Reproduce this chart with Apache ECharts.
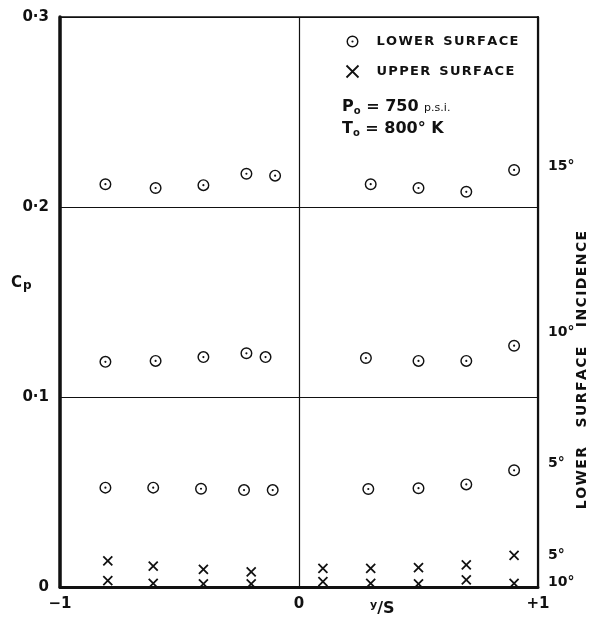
<!DOCTYPE html>
<html lang="en">
<head>
    <meta charset="UTF-8">
    <title>Cp vs y/S</title>
    <script type="text/javascript" src="https://cdn.jsdelivr.net/npm/echarts@6/dist/echarts.min.js"></script>
    <style>
        html, body { margin: 0; padding: 0; background: #fff; }
    </style>
</head>
<body>
<div id="main" style="width: 592px;height: 630px;"></div>

<script type="text/javascript">

    // lower surface, grouped by incidence
    var lowerX15 = [-0.81, -0.6, -0.4, -0.22, -0.1, 0.3, 0.5, 0.7, 0.9];
    var lower15 = [0.212, 0.210, 0.2115, 0.2175, 0.2165, 0.212, 0.210, 0.208, 0.2195];
    var lowerX10 = [-0.81, -0.6, -0.4, -0.22, -0.14, 0.28, 0.5, 0.7, 0.9];
    var lower10 = [0.1185, 0.119, 0.121, 0.123, 0.121, 0.1205, 0.119, 0.119, 0.127];
    var lowerX5 = [-0.81, -0.61, -0.41, -0.23, -0.11, 0.29, 0.5, 0.7, 0.9];
    var lower5 = [0.0523, 0.0523, 0.0517, 0.051, 0.051, 0.0516, 0.052, 0.054, 0.0614];

    // upper surface
    var upperX = [-0.8, -0.61, -0.4, -0.2, 0.1, 0.3, 0.5, 0.7, 0.9];
    var upper5 = [0.0137, 0.011, 0.0093, 0.008, 0.0098, 0.0098, 0.0102, 0.0116, 0.0167];
    var upper10 = [0.0033, 0.0019, 0.0017, 0.0017, 0.0028, 0.0019, 0.0016, 0.0037, 0.0019];

    // incidence labels on the right side
    var incLabels = ['15°', '10°', '5°', '5°', '10°'];
    var incY = [0.2216, 0.134, 0.0653, 0.0168, 0.0026];

    var xTicks = {'-1': '\u22121', '0': '0', '1': '+1'};
    var yTicks = {'0': '0', '0.1': '0·1', '0.2': '0·2', '0.3': '0·3'};

    var font = 'DejaVu Sans';
    var ink = '#111';
    var ring = 'path://M10,0A10,10 0 1,1 10,20A10,10 0 1,1 10,0Z' +
        'M10,2.4A7.6,7.6 0 1,0 10,17.6A7.6,7.6 0 1,0 10,2.4Z' +
        'M10,8.2A1.8,1.8 0 1,1 10,11.8A1.8,1.8 0 1,1 10,8.2Z';
    var cross = 'path://M0,0L10,10M10,0L0,10';

    // widen lettering a little, like the hand stencil
    function spaced(s) {
        return s.split('').join('\u200A');
    }

    function pairs(xs, ys) {
        return xs.map(function (x, i) { return [x, ys[i]]; });
    }

    var lowerData = pairs(lowerX15, lower15).concat(pairs(lowerX10, lower10), pairs(lowerX5, lower5));
    var upperData = pairs(upperX, upper5).concat(pairs(upperX, upper10));
    var incData = incY.map(function (y, i) { return [1, y, incLabels[i]]; });

    var lowerName = spaced('LOWER') + '  ' + spaced('SURFACE');
    var upperName = spaced('UPPER') + '  ' + spaced('SURFACE');

    var chart = echarts.init(document.getElementById('main'));
    var option = {
        animation: false,
        backgroundColor: '#fff',
        textStyle: {fontFamily: font, color: ink},
        grid: {left: 60, right: 54, top: 17, bottom: 43},
        legend: {
            orient: 'vertical',
            left: 339,
            top: 30,
            itemGap: 15,
            itemWidth: 12,
            itemHeight: 12,
            textStyle: {fontFamily: font, fontSize: 13, fontWeight: 'bold', color: ink, padding: [0, 0, 0, 13]},
            data: [
                {name: lowerName, icon: ring},
                {name: upperName, icon: cross, itemStyle: {color: 'none', borderColor: ink, borderWidth: 1.8}}
            ]
        },
        xAxis: [{
            type: 'value', min: -1, max: 1, interval: 1,
            axisLine: {onZero: false, lineStyle: {color: ink, width: 3}},
            axisTick: {show: false},
            splitLine: {show: true, lineStyle: {color: ink, width: 1.2}},
            axisLabel: {
                margin: 10, fontSize: 15, fontWeight: 'bold', color: ink, fontFamily: font,
                formatter: function (v) { return xTicks[String(v)]; }
            }
        }, {
            type: 'value', position: 'top', min: -1, max: 1, interval: 1,
            axisLine: {onZero: false, lineStyle: {color: ink, width: 1.5}},
            axisTick: {show: false}, axisLabel: {show: false}, splitLine: {show: false}
        }],
        yAxis: [{
            type: 'value', min: 0, max: 0.3, interval: 0.1,
            axisLine: {onZero: false, lineStyle: {color: ink, width: 3.5}},
            axisTick: {show: false},
            splitLine: {show: true, lineStyle: {color: ink, width: 1.2}},
            axisLabel: {
                margin: 11, fontSize: 15, fontWeight: 'bold', color: ink, fontFamily: font,
                formatter: function (v) { return yTicks[String(Math.round(v * 10) / 10)]; }
            }
        }, {
            type: 'value', position: 'right', min: 0, max: 0.3, interval: 0.1,
            axisLine: {onZero: false, lineStyle: {color: ink, width: 2.2}},
            axisTick: {show: false}, axisLabel: {show: false}, splitLine: {show: false}
        }],
        series: [{
            name: lowerName,
            type: 'scatter',
            symbol: ring,
            symbolSize: 12,
            itemStyle: {color: ink, opacity: 1},
            data: lowerData
        }, {
            name: upperName,
            type: 'scatter',
            symbol: cross,
            symbolSize: 9,
            itemStyle: {color: 'none', borderColor: ink, borderWidth: 1.8, opacity: 1},
            data: upperData
        }, {
            name: 'incidence',
            type: 'scatter',
            symbolSize: 0,
            silent: true,
            itemStyle: {opacity: 1},
            data: incData,
            label: {
                show: true, position: 'right', distance: 10,
                fontSize: 14, fontWeight: 'bold', color: ink, fontFamily: font,
                formatter: function (p) { return p.value[2]; }
            }
        }],
        graphic: [{
            type: 'text', left: 342, top: 99,
            style: {
                text: '{b|P}{s|o}{b| = 750 }{m|p.s.i.}',
                rich: {
                    b: {fontSize: 16, fontWeight: 'bold', fontFamily: font, fill: ink},
                    s: {fontSize: 10, fontWeight: 'bold', fontFamily: font, fill: ink, padding: [8, 0, 0, 0]},
                    m: {fontSize: 11, fontFamily: font, fill: ink, padding: [2, 0, 0, 0]}
                }
            }
        }, {
            type: 'text', left: 342, top: 121,
            style: {
                text: '{b|T}{s|o}{b| = 800° K}',
                rich: {
                    b: {fontSize: 16, fontWeight: 'bold', fontFamily: font, fill: ink},
                    s: {fontSize: 10, fontWeight: 'bold', fontFamily: font, fill: ink, padding: [8, 0, 0, 0]}
                }
            }
        }, {
            type: 'text', left: 11, top: 276,
            style: {
                text: '{b|C}{s|p}',
                rich: {
                    b: {fontSize: 15, fontWeight: 'bold', fontFamily: font, fill: ink},
                    s: {fontSize: 12, fontWeight: 'bold', fontFamily: font, fill: ink, padding: [5, 0, 0, 1]}
                }
            }
        }, {
            type: 'text', left: 370, top: 600,
            style: {
                text: '{s|y}{b|/S}',
                rich: {
                    s: {fontSize: 11, fontWeight: 'bold', fontFamily: font, fill: ink, padding: [0, 0, 6, 0]},
                    b: {fontSize: 16, fontWeight: 'bold', fontFamily: font, fill: ink}
                }
            }
        }, {
            type: 'text',
            x: 582, y: 370,
            rotation: Math.PI / 2,
            style: {
                text: spaced('LOWER') + '    ' + spaced('SURFACE') + '    ' + spaced('INCIDENCE'),
                fontSize: 14, fontWeight: 'bold', fontFamily: font, fill: ink,
                align: 'center', verticalAlign: 'middle'
            }
        }]
    };
    chart.setOption(option);
</script>
</body>
</html>
